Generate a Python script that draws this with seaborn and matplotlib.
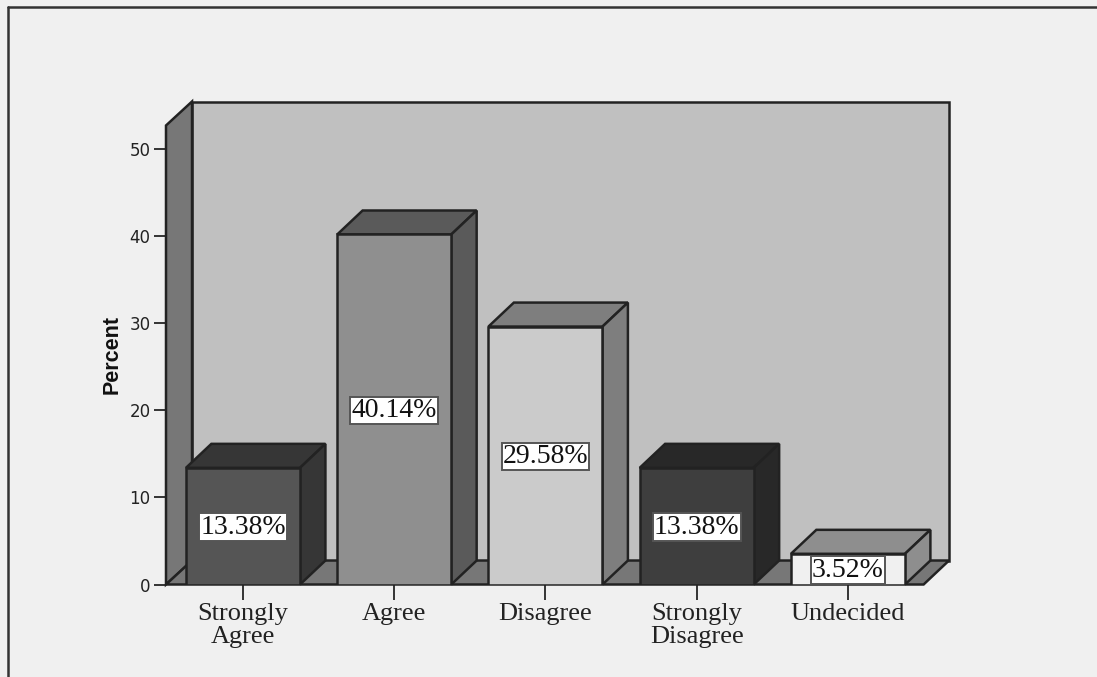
import matplotlib
matplotlib.use("Agg")
import matplotlib.pyplot as plt
import pandas as pd
import seaborn as sns
from matplotlib.lines import Line2D
from matplotlib.patches import Polygon

categories = ["Strongly Agree", "Agree", "Disagree", "Strongly Disagree", "Undecided"]
tick_labels = ["Strongly\nAgree", "Agree", "Disagree", "Strongly\nDisagree", "Undecided"]
percent = [13.38, 40.14, 29.58, 13.38, 3.52]
value_labels = ["13.38%", "40.14%", "29.58%", "13.38%", "3.52%"]
y_ticks = [0, 10, 20, 30, 40, 50]

front_colors = ["#555555", "#8f8f8f", "#cbcbcb", "#3e3e3e", "#f0f0f0"]
shade_colors = ["#363636", "#5a5a5a", "#7e7e7e", "#282828", "#8e8e8e"]
page_color = "#f0f0f0"
wall_color = "#c0c0c0"
side_color = "#777777"
edge_color = "#222222"

sns.set_theme(style="white")
W, H = 1097, 677
fig = plt.figure(figsize=(W / 100, H / 100), dpi=100, facecolor=page_color)
ax = fig.add_axes([166 / W, 1 - 584.5 / H, 783 / W, 483 / H])
ax.patch.set_visible(False)

df = pd.DataFrame({"category": categories, "percent": percent})
sns.barplot(data=df, x="category", y="percent", hue="category", order=categories,
            hue_order=categories, palette=front_colors, legend=False, saturation=1,
            width=0.754, edgecolor=edge_color, linewidth=1.8, zorder=5, ax=ax)

ax.set_xlim(-0.509, 4.668)
ax.set_ylim(0, 55.39)

# Oblique offset shared by the walls and the bar blocks
dx, dy = 0.168, 2.75
wall_dx = 0.172
x0, x1 = ax.get_xlim()
y_top = ax.get_ylim()[1]


def face(points, color, z):
    ax.add_patch(Polygon(points, closed=True, facecolor=color, edgecolor=edge_color,
                         linewidth=1.8, joinstyle="miter", zorder=z, clip_on=False))


face([(x0 + wall_dx, dy), (x1, dy), (x1, y_top), (x0 + wall_dx, y_top)], wall_color, 1)
face([(x0, 0), (x0 + wall_dx, dy), (x0 + wall_dx, y_top), (x0, y_top - dy)], side_color, 2)
face([(x0, 0), (x1 - dx, 0), (x1, dy), (x0 + wall_dx, dy)], side_color, 2)

# Top and right faces of every bar
for bar, shade in zip(ax.patches[:len(percent)], shade_colors):
    left, right = bar.get_x(), bar.get_x() + bar.get_width()
    h = bar.get_height()
    face([(left, h), (right, h), (right + dx, h + dy), (left + dx, h + dy)], shade, 4)
    face([(right, 0), (right + dx, dy), (right + dx, h + dy), (right, h)], shade, 4)

for i, (h, text) in enumerate(zip(percent, value_labels)):
    ax.annotate(text, xy=(i, h / 2), xytext=(0, 1.5), textcoords="offset points",
                ha="center", va="center_baseline", zorder=8,
                family="Liberation Serif", fontsize=20, color="#111111",
                bbox=dict(boxstyle="square,pad=0.04", facecolor="white",
                          edgecolor="#555555", linewidth=1.4))

ax.set_xticks(range(len(tick_labels)))
ax.set_xticklabels(tick_labels, family="Liberation Serif", fontsize=19,
                   color="#222222", linespacing=1.02)
ax.set_yticks(y_ticks)
ax.set_yticklabels([str(v) for v in y_ticks], family="DejaVu Sans", fontsize=12, color="#222222")
ax.tick_params(axis="x", length=11, width=1.4, color="#333333", pad=2.5, bottom=True)
ax.tick_params(axis="y", length=9, width=1.4, color="#333333", pad=2, left=True)
for spine in ax.spines.values():
    spine.set_visible(False)
ax.set_xlabel("")
ax.set_ylabel("")
fig.text(112 / W, 1 - 355 / H, "Percent", rotation=90, ha="center", va="center",
         family="Liberation Sans", fontweight="bold", fontsize=15.5, color="#111111")

# Outer chart frame along the top and left
frame = dict(color="#333333", linewidth=1.8, transform=fig.transFigure)
fig.add_artist(Line2D([7.5 / W, 1], [1 - 6.5 / H, 1 - 6.5 / H], **frame))
fig.add_artist(Line2D([7.5 / W, 7.5 / W], [0, 1 - 6.5 / H], **frame))

fig.savefig("out.png", dpi=100, facecolor=page_color)
